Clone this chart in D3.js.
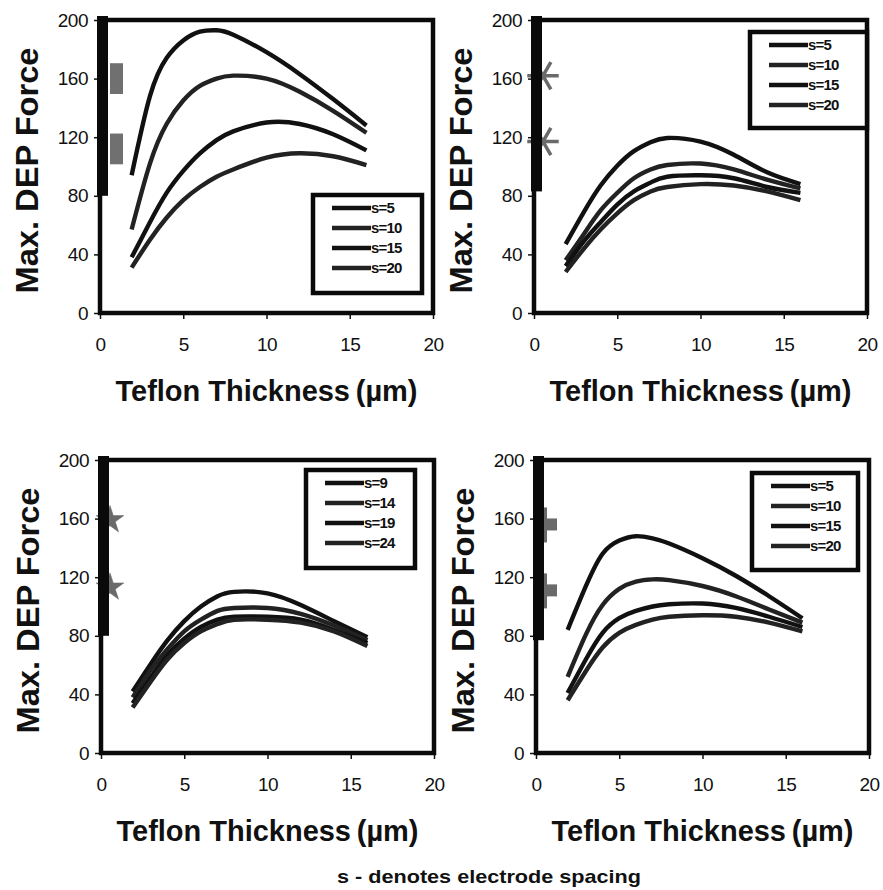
<!DOCTYPE html>
<html>
<head>
<meta charset="utf-8">
<script src="https://cdn.jsdelivr.net/npm/d3@7"></script>
<style>
  body { margin: 0; background: #fff; }
  svg { display: block; font-family: "Liberation Sans", Arial, sans-serif; }
</style>
</head>
<body>
<svg id="chart" width="883" height="890"></svg>
<script>
// Teflon thickness (um) sample points shared by all curves
const thickness = [1.9, 3, 4, 5, 6, 7, 8, 10, 12, 14, 16];
const xTicks = [0, 5, 10, 15, 20];
const yTicks = [0, 40, 80, 120, 160, 200];

// Panel A (top left)
const labelsA = ["s=5", "s=10", "s=15", "s=20"];
const forceA_s5  = [94, 148, 174, 186, 192, 193, 190, 178, 163, 146, 128];
const forceA_s10 = [57, 102, 129, 145, 155, 160, 162, 160, 151, 138, 123];
const forceA_s15 = [38, 62, 82, 97, 109, 118, 124, 130, 129, 122, 111];
const forceA_s20 = [31, 50, 65, 77, 86, 93, 98, 106, 109, 107, 101];

// Panel B (top right)
const labelsB = ["s=5", "s=10", "s=15", "s=20"];
const forceB_s5  = [47, 69, 87, 100.5, 110.5, 116.5, 119.5, 117, 108, 96, 88];
const forceB_s10 = [36, 54, 70, 82, 92, 98, 101, 102, 98, 91, 85];
const forceB_s15 = [32, 49, 62, 74, 83, 89, 93, 94, 92, 86, 82];
const forceB_s20 = [28, 44, 57, 68, 77, 83, 86, 88, 87, 83, 77];

// Panel C (bottom left)
const labelsC = ["s=9", "s=14", "s=19", "s=24"];
const forceC_s9  = [42, 61, 77, 90, 100, 107, 110, 109, 101, 90, 79];
const forceC_s14 = [38, 57, 71, 83, 91, 97, 99, 99, 95, 87, 77];
const forceC_s19 = [34, 52, 67, 78, 86, 91, 93, 93, 91, 84, 75];
const forceC_s24 = [31, 49, 64, 75, 83, 88, 91, 91, 89, 83, 73];

// Panel D (bottom right)
const labelsD = ["s=5", "s=10", "s=15", "s=20"];
const forceD_s5  = [84, 114, 136, 145, 148, 146.5, 143, 133, 121, 107, 92];
const forceD_s10 = [52, 81, 101, 112, 117, 118.5, 118, 114, 107, 98, 89];
const forceD_s15 = [41, 64, 82, 92, 97, 100, 101.5, 102, 99, 93, 86];
const forceD_s20 = [36, 56, 72, 82, 87.5, 91, 93, 94, 93, 89, 83];

// scan residue on the y axis of each panel: lower end of black bar, grey marks
const barLow = [80, 83, 80, 77];
const residueMarks = [[160, 112], [162, 117], [159, 113], [156, 111]];

const svg = d3.select("#chart");
const W = 333, H = 293;
const ink = "#111";

const panels = [
  { left: 100, top: 20, labels: labelsA, series: [forceA_s5, forceA_s10, forceA_s15, forceA_s20],
    legend: { x: 213, y: 175, w: 109, h: 98 }, mark: "rect" },
  { left: 534, top: 20, labels: labelsB, series: [forceB_s5, forceB_s10, forceB_s15, forceB_s20],
    legend: { x: 216, y: 12, w: 117, h: 96 }, mark: "asterisk" },
  { left: 101, top: 460, labels: labelsC, series: [forceC_s9, forceC_s14, forceC_s19, forceC_s24],
    legend: { x: 205, y: 10, w: 109, h: 98 }, mark: "star" },
  { left: 536, top: 460, labels: labelsD, series: [forceD_s5, forceD_s10, forceD_s15, forceD_s20],
    legend: { x: 216, y: 13, w: 106, h: 97 }, mark: "cross" }
];

panels.forEach((p, i) => {
  const g = svg.append("g").attr("transform", `translate(${p.left},${p.top})`);
  const x = d3.scaleLinear().domain([0, 20]).range([0, W]);
  const y = d3.scaleLinear().domain([0, 200]).range([H, 0]);

  // axes
  const yAxis = g.append("g")
    .call(d3.axisLeft(y).tickValues(yTicks).tickSize(6).tickPadding(6).tickFormat(d3.format("d")));
  const xAxis = g.append("g")
    .attr("transform", `translate(0,${H})`)
    .call(d3.axisBottom(x).tickValues(xTicks).tickSize(6).tickPadding(19).tickFormat(d3.format("d")));
  [yAxis, xAxis].forEach(a => {
    a.select(".domain").remove();
    a.selectAll(".tick line").attr("stroke", ink).attr("stroke-width", 1.5);
    a.selectAll(".tick text")
      .attr("fill", ink)
      .style("font-size", "19px")
      .style("letter-spacing", "-0.5px");
  });

  // grey residue marks (partly hidden by the black bar)
  const marks = g.append("g").attr("fill", "#6a6a6a");
  residueMarks[i].forEach(v => {
    if (p.mark === "rect") {
      marks.append("rect")
        .attr("x", 10).attr("width", 13)
        .attr("y", y(v + 10.5)).attr("height", y(v - 10.5) - y(v + 10.5))
        .attr("fill", "#707070");
    } else if (p.mark === "cross") {
      marks.append("rect")
        .attr("x", 6).attr("width", 5)
        .attr("y", y(v) - 17).attr("height", 35);
      marks.append("rect")
        .attr("x", 6).attr("width", 15)
        .attr("y", y(v) - 6).attr("height", 12);
    } else {
      const type = p.mark === "asterisk" ? d3.symbolAsterisk : d3.symbolStar;
      const size = p.mark === "asterisk" ? 700 : 240;
      marks.append("path")
        .attr("transform", `translate(9,${y(v)})` + (p.mark === "asterisk" ? " rotate(90)" : ""))
        .attr("d", d3.symbol().type(type).size(size)())
        .attr("stroke", "#6a6a6a")
        .attr("stroke-width", p.mark === "asterisk" ? 3.5 : 0.5);
    }
  });

  // black bar on the y axis
  g.append("rect")
    .attr("x", -3).attr("width", 11)
    .attr("y", y(200) - 4).attr("height", y(barLow[i]) - y(200) + 4)
    .attr("fill", "#0a0a0a");

  // curves
  const line = d3.line()
    .x((d, k) => x(thickness[k]))
    .y(d => y(d))
    .curve(d3.curveNatural);
  g.append("g").selectAll("path")
    .data(p.series)
    .join("path")
    .attr("d", line)
    .attr("fill", "none")
    .attr("stroke", (d, k) => k % 2 ? "#222" : ink)
    .attr("stroke-width", 4.4)
    .attr("stroke-linejoin", "round");

  // plot frame
  g.append("rect")
    .attr("x", 0).attr("y", 0).attr("width", W).attr("height", H)
    .attr("fill", "none").attr("stroke", "#0a0a0a").attr("stroke-width", 4.5);

  // legend
  const L = p.legend;
  const lg = g.append("g").attr("transform", `translate(${L.x},${L.y})`);
  lg.append("rect")
    .attr("width", L.w).attr("height", L.h)
    .attr("fill", "#fff").attr("stroke", "#0a0a0a").attr("stroke-width", 4.5);
  p.labels.forEach((lab, k) => {
    const ry = 13 + k * 20;
    lg.append("line")
      .attr("x1", 19).attr("x2", 58).attr("y1", ry).attr("y2", ry)
      .attr("stroke", k % 2 ? "#222" : ink).attr("stroke-width", 4.4);
    lg.append("text")
      .attr("x", 58).attr("y", ry + 5)
      .attr("fill", ink)
      .style("font-size", "15px").style("font-weight", "bold")
      .style("letter-spacing", "-0.8px")
      .text(lab);
  });

  // axis titles
  g.append("text")
    .attr("transform", `translate(-62,${H / 2 + 4}) rotate(-90)`)
    .attr("text-anchor", "middle")
    .attr("fill", ink)
    .style("font-size", "32px").style("font-weight", "bold")
    .attr("textLength", 246).attr("lengthAdjust", "spacingAndGlyphs")
    .text("Max. DEP Force");
  g.append("text")
    .attr("x", W / 2).attr("y", H + 88)
    .attr("text-anchor", "middle")
    .attr("fill", ink)
    .style("font-size", "29px").style("font-weight", "bold")
    .attr("textLength", 302).attr("lengthAdjust", "spacingAndGlyphs")
    .text("Teflon Thickness\u2009(\u00b5m)");
});

svg.append("text")
  .attr("x", 489).attr("y", 883)
  .attr("text-anchor", "middle")
  .attr("fill", ink)
  .style("font-size", "19px").style("font-weight", "bold")
  .attr("textLength", 304).attr("lengthAdjust", "spacingAndGlyphs")
  .text("s - denotes electrode spacing");
</script>
</body>
</html>
